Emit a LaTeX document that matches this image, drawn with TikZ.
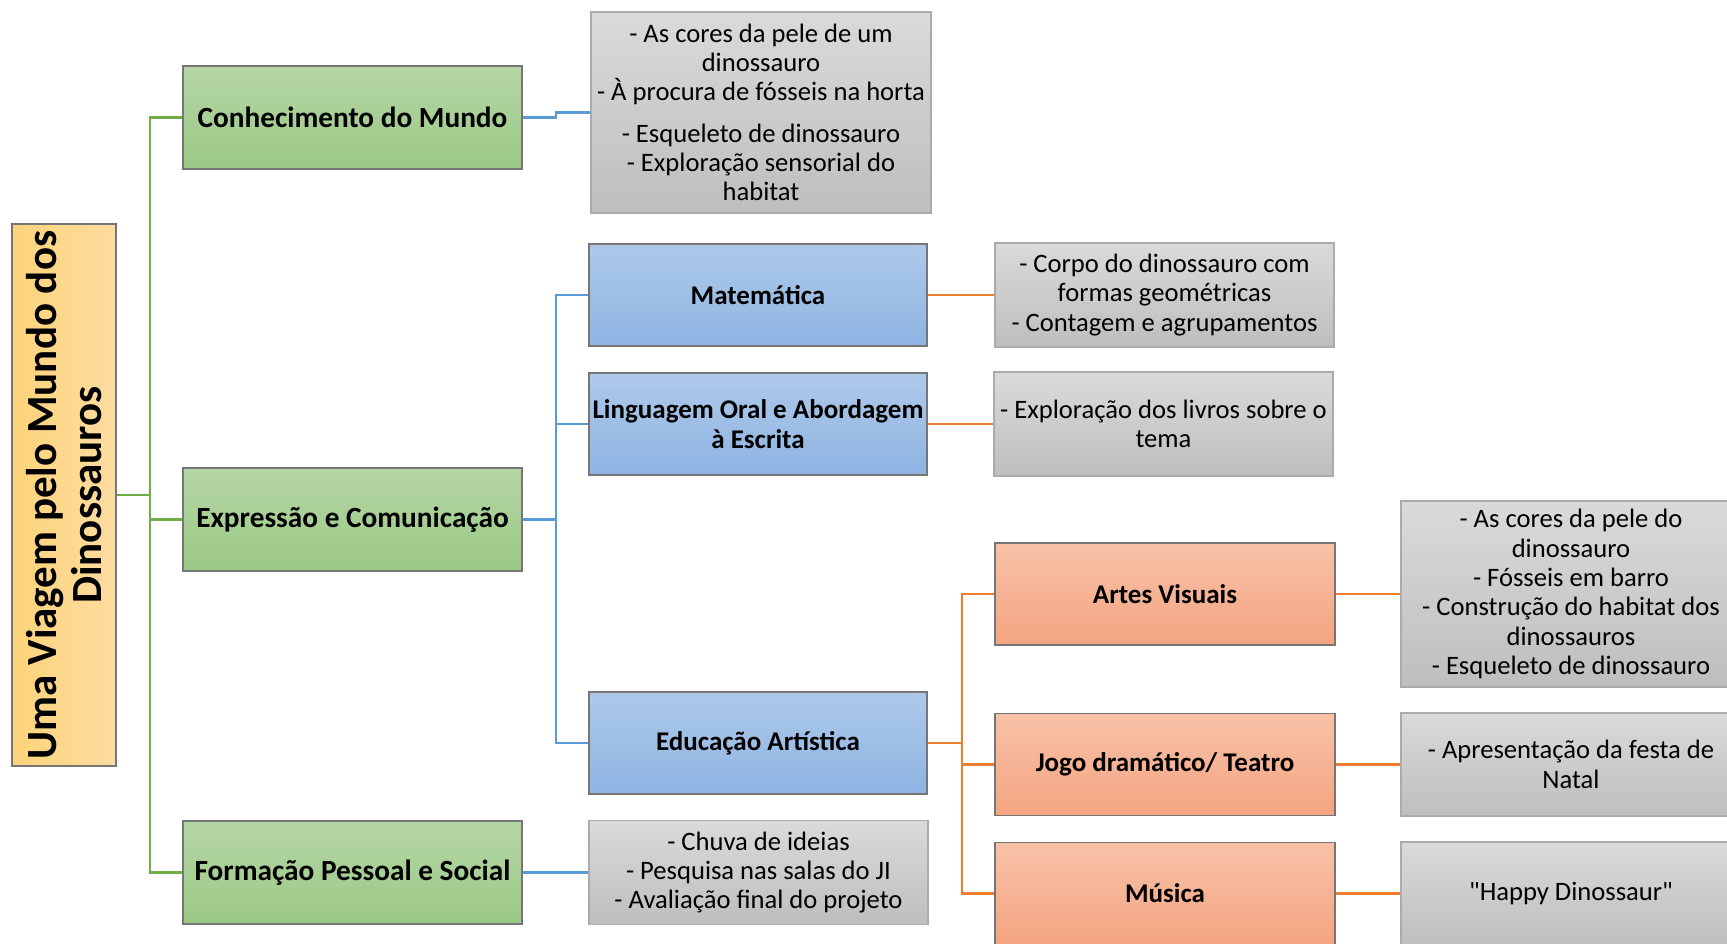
\documentclass[tikz,border=0pt]{standalone}
\usepackage{fontspec}
\setmainfont{Carlito}[Ligatures=TeXOff]
\usepackage{tikz}
\definecolor{grnline}{HTML}{70AD47}
\definecolor{bluline}{HTML}{5B9BD5}
\definecolor{orgline}{HTML}{ED7D31}
\definecolor{boxedge}{HTML}{767676}
\definecolor{txtedge}{HTML}{ABABAB}

\begin{document}
\begin{tikzpicture}[x=1pt,y=-1pt,
  box/.style={draw=boxedge,line width=1.3pt,inner sep=0pt,align=center,
    font=\fontsize{27}{29.7}\selectfont\bfseries},
  grnbox/.style={box,top color={rgb,255:red,181;green,214;blue,166},
    bottom color={rgb,255:red,155;green,201;blue,132},
    minimum width=339,minimum height=103,font=\fontsize{29.3}{31}\selectfont\bfseries},
  blubox/.style={box,top color={rgb,255:red,174;green,201;blue,234},
    bottom color={rgb,255:red,142;green,180;blue,226},
    minimum width=338,minimum height=102},
  orgbox/.style={box,top color={rgb,255:red,248;green,194;blue,168},
    bottom color={rgb,255:red,244;green,164;blue,129},
    minimum width=340,minimum height=102},
  txtbox/.style={draw=txtedge,line width=1.3pt,inner sep=0pt,align=center,
    top color={rgb,255:red,218;green,218;blue,218},
    bottom color={rgb,255:red,190;green,190;blue,190},
    font=\fontsize{26.6}{29.3}\selectfont,minimum width=339},
  gline/.style={grnline,line width=2.8pt},
  bline/.style={bluline,line width=2.8pt},
  oline/.style={orgline,line width=2.8pt}]
\useasboundingbox (0,0) rectangle (1727,943);

% root
\node (title) at (64,495) [box,rotate=90,minimum width=542,minimum height=104,
  left color={rgb,255:red,253;green,211;blue,122},
  right color={rgb,255:red,253;green,220;blue,160},
  font=\fontsize{43}{45}\selectfont\bfseries] {Uma Viagem pelo Mundo dos\\Dinossauros};

% areas
\node (conh) at (352.5,117.5) [grnbox] {Conhecimento do Mundo};
\node (expr) at (352.5,519.5) [grnbox] {Expressão e Comunicação};
\node (form) at (352.5,872.5) [grnbox] {Formação Pessoal e Social};

\node (conhtxt) at (761,112.5) [txtbox,minimum width=340,minimum height=201]
  {- As cores da pele de um\\dinossauro\\- À procura de fósseis na horta\\[12pt]
   - Esqueleto de dinossauro\\- Exploração sensorial do\\habitat};
\node (formtxt) at (758.5,872.5) [txtbox,minimum height=104]
  {- Chuva de ideias\\- Pesquisa nas salas do JI\\- Avaliação final do projeto};

% dominios
\node (mat)  at (758,295) [blubox] {Matemática};
\node (ling) at (758,424) [blubox] {Linguagem Oral e Abordagem\\à Escrita};
\node (edu)  at (758,743) [blubox] {Educação Artística};

\node (mattxt)  at (1164.5,295) [txtbox,minimum height=104]
  {- Corpo do dinossauro com\\formas geométricas\\- Contagem e agrupamentos};
\node (lingtxt) at (1163.5,424) [txtbox,minimum height=104]
  {- Exploração dos livros sobre o\\tema};

% subdominios
\node (artes)  at (1165,594)   [orgbox] {Artes Visuais};
\node (jogo)   at (1165,764.5) [orgbox] {Jogo dramático/ Teatro};
\node (musica) at (1165,893.5) [orgbox] {Música};

\node (artestxt)  at (1571,594) [txtbox,minimum width=340,minimum height=186]
  {- As cores da pele do\\dinossauro\\- Fósseis em barro\\- Construção do habitat dos\\dinossauros\\- Esqueleto de dinossauro};
\node (jogotxt)   at (1571,764.5) [txtbox,minimum width=340,minimum height=103]
  {- Apresentação da festa de\\Natal};
\node (musicatxt) at (1571,893.5) [txtbox,minimum width=340,minimum height=103]
  {"Happy Dinossaur"};

% ligacoes
\coordinate (gsp) at (150,495);
\coordinate (bsp) at (556,519.5);
\coordinate (osp) at (962,743);
\draw[gline] (title.south) -- (gsp);
\draw[gline] (conh.west) -| (gsp) |- (form.west);
\draw[gline] (expr.west) -- (expr.west -| gsp);

\draw[bline] (conh.east) -- (conh.east -| bsp) |- (conhtxt.west);
\draw[bline] (expr.east) -- (bsp);
\draw[bline] (mat.west) -| (bsp) |- (edu.west);
\draw[bline] (ling.west) -- (ling.west -| bsp);
\draw[bline] (form.east) -- (formtxt.west);

\draw[oline] (mat.east) -- (mattxt.west);
\draw[oline] (ling.east) -- (lingtxt.west);
\draw[oline] (edu.east) -- (osp);
\draw[oline] (artes.west) -| (osp) |- (musica.west);
\draw[oline] (jogo.west) -- (jogo.west -| osp);
\draw[oline] (artes.east) -- (artestxt.west);
\draw[oline] (jogo.east) -- (jogotxt.west);
\draw[oline] (musica.east) -- (musicatxt.west);
\end{tikzpicture}
\end{document}
